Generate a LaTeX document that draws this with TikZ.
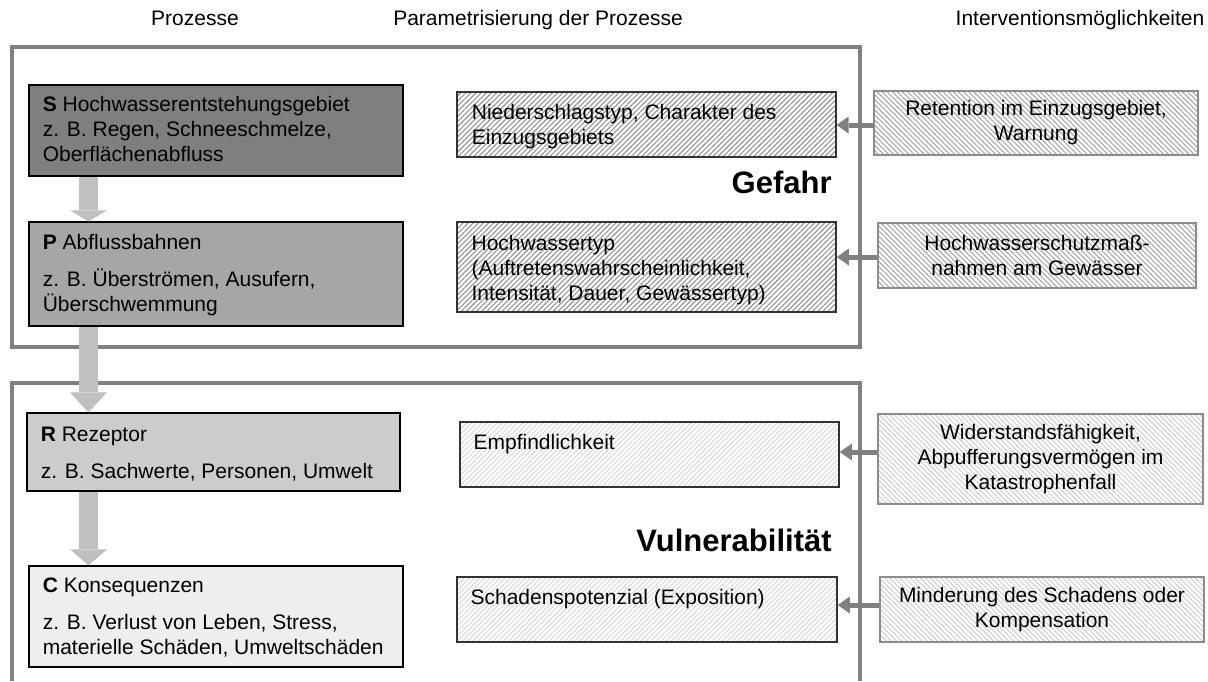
\documentclass[tikz,border=0pt]{standalone}
\usepackage{fontspec}
\setmainfont{Liberation Sans}
\usetikzlibrary{arrows.meta,patterns.meta,calc,fit}

\definecolor{framegray}{HTML}{808080}
\definecolor{sfill}{HTML}{7F7F7F}
\definecolor{pfill}{HTML}{A6A6A6}
\definecolor{rfill}{HTML}{CCCCCC}
\definecolor{cfill}{HTML}{EEEEEE}
\definecolor{blockgray}{HTML}{C0C0C0}
\definecolor{hatchA}{HTML}{939393}
\definecolor{hatchB}{HTML}{A8A8A8}
\definecolor{hatchC}{HTML}{DADADA}
\definecolor{hatchD}{HTML}{D0D0D0}
\definecolor{boxdark}{HTML}{333333}
\definecolor{boxgray}{HTML}{8C8C8C}

\begin{document}
\begin{tikzpicture}[x=0.5pt,y=-0.5pt,
  every node/.style={font=\fontsize{10.5pt}{12.5pt}\selectfont, inner sep=0pt},
  zoneframe/.style={draw=framegray, line width=2pt},
  procbox/.style={draw=black, line width=0.6pt},
  parambox/.style={draw=boxdark, line width=0.8pt,
    pattern={Lines[angle=45,distance=1.8pt,line width=0.55pt]}},
  intbox/.style={draw=boxgray, line width=0.6pt,
    pattern={Lines[angle=-45,distance=1.8pt,line width=0.55pt]}},
  blockarrow/.style={draw=blockgray, line width=9.5pt},
  hintarrow/.style={draw=framegray, line width=2.5pt,
    -{Triangle[length=6pt,width=8.5pt,line width=0pt]}},
  zonelabel/.style={anchor=base east, font=\fontsize{15.5pt}{18pt}\selectfont\bfseries},
  boxtext/.style={anchor=base west}
]
\useasboundingbox (0,0) rectangle (1208,681);
\fill[white] (0,0) rectangle (1208,681);

% column headings
\node[anchor=base] (h1) at (195,25) {Prozesse};
\node[anchor=base] (h2) at (538,25) {Parametrisierung der Prozesse};
\node[anchor=base] (h3) at (1080,25) {Interventionsmöglichkeiten};

% zone frames
\draw[zoneframe] (12,47) rectangle (860,346.5);
\draw[zoneframe] (12,681) -- (12,383) -- (860,383) -- (860,681);

% process chain (S-P-R-C)
\node[procbox, fill=sfill, fit={(29,85)(403,176)}] (S) {};
\node[boxtext] (St) at ($(S.north west)+(14,27)$)
  {\parbox[t]{180pt}{\textbf{S} Hochwasserentstehungsgebiet\\z. B. Regen, Schneeschmelze,\\Oberflächenabfluss}};
\node[procbox, fill=pfill, fit={(29,222)(403,326)}] (P) {};
\node[boxtext] (Pt) at ($(P.north west)+(14,28)$)
  {\parbox[t]{180pt}{\textbf{P} Abflussbahnen\\[6.25pt]z. B. Überströmen, Ausufern,\\Überschwemmung}};
\node[procbox, fill=rfill, fit={(27,413)(400,491)}] (R) {};
\node[boxtext] (Rt) at ($(R.north west)+(14,29)$)
  {\parbox[t]{180pt}{\textbf{R} Rezeptor\\[6.25pt]z. B. Sachwerte, Personen, Umwelt}};
\node[procbox, fill=cfill, fit={(29,566)(403,667)}] (C) {};
\node[boxtext] (Ct) at ($(C.north west)+(14,27)$)
  {\parbox[t]{180pt}{\textbf{C} Konsequenzen\\[6.25pt]z. B. Verlust von Leben, Stress,\\materielle Schäden, Umweltschäden}};

% parameter boxes
\node[parambox, pattern color=hatchA, fit={(457,92)(836,157)}] (N1) {};
\node[boxtext] (N1t) at ($(N1.north west)+(15,28)$)
  {\parbox[t]{180pt}{Niederschlagstyp, Charakter des\\Einzugsgebiets}};
\node[parambox, pattern color=hatchA, fit={(457,222)(836,312)}] (N2) {};
\node[boxtext] (N2t) at ($(N2.north west)+(15,29)$)
  {\parbox[t]{180pt}{Hochwassertyp\\(Auftretenswahrscheinlichkeit,\\Intensität, Dauer, Gewässertyp)}};
\node[parambox, pattern color=hatchC, fit={(460,422)(839,487)}] (N3) {};
\node[boxtext] (N3t) at ($(N3.north west)+(14,28)$) {Empfindlichkeit};
\node[parambox, pattern color=hatchC, fit={(457,577)(837,642)}] (N4) {};
\node[boxtext] (N4t) at ($(N4.north west)+(14,28)$) {Schadenspotenzial (Exposition)};

% intervention boxes
\node[intbox, pattern color=hatchB, fit={(874,91)(1198,155)}] (I1) {};
\node[align=center] (I1t) at (I1.center) {Retention im Einzugsgebiet,\\Warnung};
\node[intbox, pattern color=hatchB, fit={(878,223)(1196,288)}] (I2) {};
\node[align=center] (I2t) at (I2.center) {Hochwasserschutzmaß-\\nahmen am Gewässer};
\node[intbox, pattern color=hatchD, fit={(878,414)(1203,504)}] (I3) {};
\node[align=center] (I3t) at (I3.center) {Widerstandsfähigkeit,\\Abpufferungsvermögen im\\Katastrophenfall};
\node[intbox, pattern color=hatchD, fit={(880,577)(1204,642)}] (I4) {};
\node[align=center] (I4t) at (I4.center) {Minderung des Schadens oder\\Kompensation};

% zone labels
\node[zonelabel] (gef) at (832,193) {Gefahr};
\node[zonelabel] (vul) at (832,551) {Vulnerabilität};

% block arrows along the process chain
\coordinate (col) at (88.5,0);
\draw[blockarrow, -{Triangle[length=5.5pt,width=18.5pt,line width=0pt]}] (S.south -| col) -- (P.north -| col);
\draw[blockarrow, -{Triangle[length=10pt,width=18.5pt,line width=0pt]}] (P.south -| col) -- (R.north -| col);
\draw[blockarrow, -{Triangle[length=8pt,width=18.5pt,line width=0pt]}] (R.south -| col) -- (C.north -| col);

% intervention arrows
\coordinate (a1) at ([yshift=-1pt]I1.west);
\coordinate (a2) at ([yshift=-0.75pt]I2.west);
\coordinate (a3) at ([yshift=3.5pt]I3.west);
\coordinate (a4) at ([yshift=2.25pt]I4.west);
\draw[hintarrow] (a1) -- (a1 -| N1.east);
\draw[hintarrow] (a2) -- (a2 -| N2.east);
\draw[hintarrow] (a3) -- (a3 -| N3.east);
\draw[hintarrow] (a4) -- (a4 -| N4.east);
\end{tikzpicture}
\end{document}
